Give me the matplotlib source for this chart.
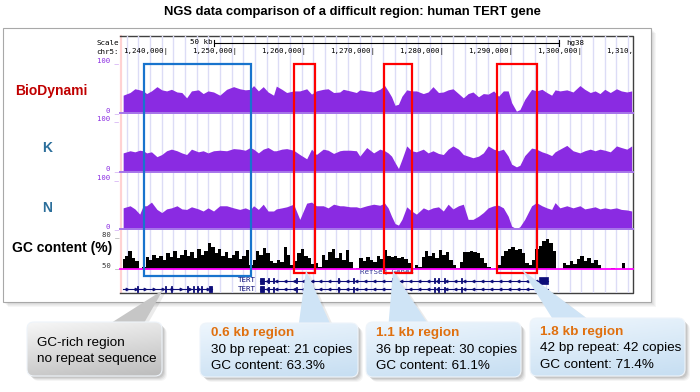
import matplotlib
matplotlib.use('Agg')
import matplotlib.pyplot as plt
import numpy as np
from matplotlib.colors import LinearSegmentedColormap
from matplotlib.patches import FancyBboxPatch, Polygon, Rectangle

# ---- values (positions in kb on chr5) ----
pos_kb = [1233.5, 1234.5, 1235.2, 1235.9, 1236.4, 1236.9, 1237.6, 1238.4, 1239.1, 1239.8,
          1240.5, 1241.3, 1242.0, 1242.7, 1243.4, 1244.4, 1245.1, 1245.8, 1246.6, 1247.5,
          1248.5, 1249.5, 1250.4, 1251.2, 1251.9, 1252.4, 1253.1, 1253.8, 1254.5, 1255.3,
          1255.7, 1256.5, 1257.2, 1258.2, 1259.1, 1260.1, 1260.8, 1261.5, 1262.5, 1263.2,
          1264.0, 1264.9, 1265.4, 1266.4, 1267.3, 1267.8, 1268.8, 1269.8, 1270.7, 1271.4,
          1271.9, 1272.4, 1272.9, 1273.4, 1273.9, 1274.6, 1275.3, 1276.0, 1277.0, 1277.7,
          1278.4, 1279.2, 1279.9, 1280.6, 1281.3, 1282.1, 1282.8, 1283.5, 1284.2, 1285.0,
          1285.7, 1286.4, 1287.2, 1287.9, 1288.6, 1289.3, 1289.8, 1290.5, 1291.0, 1291.7,
          1292.7, 1293.4, 1294.2, 1294.9, 1295.6, 1296.1, 1296.8, 1297.8, 1298.7, 1299.7,
          1300.4, 1301.2, 1301.9, 1302.6, 1303.3, 1304.1, 1305.0, 1305.7, 1306.5, 1307.2]

cov_biodynami = [34, 39, 46, 44, 42, 37, 42, 50, 44, 42, 45, 40, 39, 29, 42, 44, 37, 42, 40, 34,
                 45, 50, 46, 44, 45, 52, 42, 50, 40, 34, 51, 45, 39, 42, 42, 46, 36, 42, 45, 46,
                 39, 40, 45, 42, 39, 44, 42, 40, 45, 52, 42, 31, 15, 17, 32, 44, 42, 42, 37, 40,
                 50, 39, 40, 44, 46, 37, 29, 37, 40, 31, 37, 36, 42, 32, 42, 42, 20, 4, 7, 26,
                 45, 42, 45, 39, 34, 44, 42, 44, 40, 52, 45, 39, 42, 37, 45, 39, 46, 42, 40, 42]

cov_k = [35, 39, 37, 40, 39, 35, 37, 28, 32, 39, 42, 39, 35, 32, 42, 37, 39, 35, 39, 40,
         39, 43, 42, 40, 45, 42, 35, 42, 45, 39, 39, 42, 43, 40, 32, 24, 42, 32, 42, 40,
         34, 39, 40, 40, 39, 29, 45, 35, 42, 39, 35, 29, 17, 6, 23, 48, 39, 37, 42, 35,
         39, 34, 32, 42, 48, 42, 32, 29, 26, 29, 35, 48, 42, 39, 42, 29, 14, 9, 12, 30,
         44, 42, 37, 34, 30, 37, 42, 49, 39, 35, 39, 42, 39, 42, 40, 37, 48, 45, 42, 48]

cov_n = [41, 45, 39, 29, 45, 45, 52, 38, 32, 39, 41, 45, 39, 38, 43, 39, 35, 41, 35, 45,
         45, 41, 38, 41, 37, 45, 38, 48, 35, 35, 39, 41, 43, 48, 19, 50, 52, 45, 45, 41,
         48, 45, 45, 43, 43, 41, 45, 48, 46, 50, 41, 25, 11, 8, 19, 43, 35, 29, 41, 37,
         41, 43, 35, 48, 39, 45, 48, 19, 19, 25, 32, 41, 45, 46, 41, 25, 6, 1, 5, 19,
         45, 51, 45, 41, 38, 51, 41, 45, 41, 45, 39, 41, 43, 39, 41, 39, 41, 38, 37, 35]

gc_start_kb = 1233.5
gc_bin_kb = 0.5
gc_pct = [59, 62, 66, 60, 57, 50, 52, 61, 58, 63, 60, 62, 58, 64, 61, 66, 60, 63, 67, 62,
          65, 60, 68, 63, 66, 74, 70, 64, 68, 62, 65, 60, 63, 66, 59, 62, 67, 53, 58, 66,
          63, 69, 64, 57, 55, 58, 56, 70, 63, 53, 57, 64, 68, 62, 60, 54, 55, 52, 63, 58,
          65, 68, 60, 64, 58, 67, 56, 50, 51, 60, 57, 61, 58, 56, 62, 59, 67, 62, 61, 62,
          60, 61, 59, 55, 51, 53, 52, 61, 66, 62, 64, 60, 67, 63, 65, 58, 53, 51, 56, 65,
          65, 66, 65, 64, 60, 55, 52, 50, 51, 53, 62, 66, 68, 70, 67, 68, 64, 55, 53, 58,
          68, 71, 75, 77, 74, 66, 50, 50, 55, 53, 57, 54, 59, 62, 57, 60, 55, 58, 53, 50,
          50, 50, 51, 50, 50, 55, 50]

tick_kb = [1240, 1250, 1260, 1270, 1280, 1290, 1300, 1310]
scale_bar_kb = (1246.7, 50)
regions_kb = [(1236.5, 1252.0), (1258.26, 1261.3), (1271.3, 1275.36), (1287.68, 1293.48)]
region_colors = ['#1874cd', '#ff0000', '#ff0000', '#ff0000']

tert_span = (1253.3, 1295.1)
tert_exons = [(1253.3, 1253.9), (1254.45, 1254.6), (1255.2, 1255.35), (1258.6, 1258.75),
              (1264.6, 1264.75), (1266.8, 1266.95), (1272.4, 1272.55), (1278.6, 1278.75),
              (1279.1, 1279.25), (1280.0, 1280.15), (1282.5, 1282.65)]
tert_end_block = (1293.7, 1295.1)
left_gene_span = (1233.5, 1246.4)
left_gene_exons = [(1235.45, 1235.6), (1239.55, 1239.7), (1240.45, 1240.6), (1242.8, 1242.95),
                   (1243.6, 1243.75), (1244.15, 1244.3), (1244.85, 1245.0), (1246.0, 1246.4)]

title = 'NGS data comparison of a difficult region: human TERT gene'
track_names = ['BioDynami', 'K', 'N']
track_colors = ['#c00000', '#2c6f9b', '#2c6f9b']
gray_lines = ['GC-rich region', 'no repeat sequence']
callout_titles = ['0.6 kb region', '1.1 kb region', '1.8 kb region']
callout_lines = [['30 bp repeat: 21 copies', 'GC content: 63.3%'],
                 ['36 bp repeat: 30 copies', 'GC content: 61.1%'],
                 ['42 bp repeat: 42 copies', 'GC content: 71.4%']]

# ---- layout (pixels of the 700x392 picture) ----
W, H = 700, 392
X0, X1 = 120, 633
KB0 = 1240 - 48 / 6.9
KB1 = 1240 + (X1 - 168) / 6.9
mono = 'DejaVu Sans Mono'
sans = 'Liberation Sans'
purple = '#8a2be2'
navy = '#0c0c78'

fig = plt.figure(figsize=(7, 3.92), dpi=100)


def px_axes(x0, y0, x1, y1, z):
    ax = fig.add_axes([x0 / W, 1 - y1 / H, (x1 - x0) / W, (y1 - y0) / H], zorder=z)
    ax.patch.set_alpha(0)
    ax.axis('off')
    return ax


# background: frame, shadow, left labels
bg = px_axes(0, 0, W, H, 0)
for k in range(1, 6):
    bg.add_patch(Rectangle((3 + k, 28 + k), 648, 274, fc='k', ec='none', alpha=0.035))
bg.add_patch(Rectangle((3, 28), 648, 274, fc='white', ec='#a8a8a8', lw=0.8))
bg.plot([121, 121], [36, 293], color='#ffd2d2', lw=1.6)
bg.plot([X0, X1, X1, X0], [36, 36, 293, 293], color='#404040', lw=1.0)
bg.text(119, 42.5, 'Scale', ha='right', va='center', fontsize=5.4, family=mono)
bg.text(119, 51.5, 'chr5:', ha='right', va='center', fontsize=5.4, family=mono)

track_px = [(60, 113.3), (118, 171.7), (177, 229.3)]
label_y = [91, 148, 208]
for (top, bot), name, col, ly in zip(track_px, track_names, track_colors, label_y):
    bg.text(119, top + 0.5, '100 _', ha='right', va='center', fontsize=5.2, color=purple, family=mono)
    bg.text(119, bot - 3, '0 _', ha='right', va='center', fontsize=5.2, color=purple, family=mono)
    if name == 'BioDynami':
        bg.text(15, ly, name, ha='left', va='center', fontsize=10, fontweight='bold', color=col, family=sans)
    else:
        bg.text(47, ly, name, ha='center', va='center', fontsize=10, fontweight='bold', color=col, family=sans)
bg.text(119, 235, '80 _', ha='right', va='center', fontsize=5.2, color='#333333', family=mono)
bg.text(119, 265.5, '50 _', ha='right', va='center', fontsize=5.2, color='#333333', family=mono)
bg.text(12, 248, 'GC content (%)', ha='left', va='center', fontsize=10, fontweight='bold', family=sans)
bg.set_xlim(0, W)
bg.set_ylim(H, 0)

# browser guide lines, ruler and genes (x in kb, y in pixels)
gx = px_axes(X0, 36, X1, 293, 1)
for g in np.arange(1234.0, KB1, 1.69):
    gx.axvline(g, color='#dcdcf6', lw=1.0, zorder=0)
sb0, sblen = scale_bar_kb
gx.plot([sb0, sb0 + sblen], [42.5, 42.5], color='k', lw=0.8)
gx.plot([sb0, sb0], [40, 45.5], color='k', lw=0.8)
gx.plot([sb0 + sblen, sb0 + sblen], [40, 45.5], color='k', lw=0.8)
gx.text(sb0 - 0.3, 42.5, '50 kb', ha='right', va='center', fontsize=5.4, family=mono)
gx.text(sb0 + sblen + 1.0, 42.5, 'hg38', ha='left', va='center', fontsize=5.4, family=mono)
for t in tick_kb:
    gx.text(t, 51.5, f'{t * 1000:,}|', ha='right', va='center', fontsize=5.4, family=mono, clip_on=True)

tert_marks = np.arange(tert_span[0] + 1.0, tert_span[1] - 1.0, 1.3)
for row_y in (280.5, 289):
    gx.plot(tert_span, [row_y, row_y], color=navy, lw=0.8)
    gx.plot(tert_marks, [row_y] * len(tert_marks), ls='none', marker='<', ms=2.2, mew=0.5, color=navy)
    for a, b in tert_exons:
        h = 6 if b - a > 0.3 else 5
        gx.add_patch(Rectangle((a, row_y - h / 2), b - a, h, fc=navy, ec=navy, lw=0.6))
    gx.text(tert_span[0] - 0.6, row_y, 'TERT', ha='right', va='center', fontsize=5.4, color=navy, family=mono)
gx.add_patch(Rectangle((tert_end_block[0], 277), tert_end_block[1] - tert_end_block[0], 7, fc=navy, ec=navy, lw=0.5))
gx.plot(left_gene_span, [289, 289], color=navy, lw=0.8)
lg_marks = np.arange(left_gene_span[0] + 0.6, left_gene_span[1] - 0.6, 1.3)
gx.plot(lg_marks, [289] * len(lg_marks), ls='none', marker='>', ms=2.2, mew=0.5, color=navy)
for a, b in left_gene_exons:
    gx.add_patch(Rectangle((a, 286), b - a, 6, fc=navy, ec=navy, lw=0.6))
gx.text(1271.7, 272, 'RefSeq Genes', ha='center', va='center', fontsize=5.4, color='#3a3a9a', family=mono)
gx.set_xlim(KB0, KB1)
gx.set_ylim(293, 36)

# coverage tracks
for (top, bot), vals in zip(track_px, [cov_biodynami, cov_k, cov_n]):
    ax = px_axes(X0, top, X1, bot, 2)
    ax.fill_between(pos_kb, vals, 0, color=purple, lw=0)
    ax.axhline(0, color='#a777ea', lw=1.4, clip_on=False)
    ax.set_xlim(KB0, KB1)
    ax.set_ylim(0, 100)

# GC content track
gc_ax = px_axes(X0, 236, X1, 268.7, 2)
gc_pos = gc_start_kb + gc_bin_kb * np.arange(len(gc_pct))
gc_ax.fill_between(gc_pos, gc_pct, 50, step='mid', color='black', lw=0)
gc_ax.axhline(50, color='#ff00ff', lw=1.3, clip_on=False)
gc_ax.set_xlim(KB0, KB1)
gc_ax.set_ylim(50, 80)

# highlighted regions
bx = px_axes(X0, 36, X1, 293, 3)
for (a, b), col in zip(regions_kb, region_colors):
    y_bot = 275.5 if col != '#ff0000' else 273
    bx.add_patch(Rectangle((a, 64), b - a, y_bot - 64, fill=False, ec=col, lw=1.6))
bx.set_xlim(KB0, KB1)
bx.set_ylim(293, 36)

# callouts
cx = px_axes(0, 0, W, H, 4)
blue_cmap = LinearSegmentedColormap.from_list('b', ['#eef6fd', '#c6def2'])
gray_cmap = LinearSegmentedColormap.from_list('g', ['#f7f7f7', '#bcbcbc'])
g = np.linspace(0, 1, 64)
grad = g[:, None] * 0.75 + g[None, :] * 0.25


def callout(box, tip, base, cmap, wedge_col):
    x0, y0, x1, y1 = box
    wedge = [base[0], base[1], tip]
    for k, a in [(5, 0.04), (4, 0.05), (3, 0.07), (2, 0.08)]:
        cx.add_patch(FancyBboxPatch((x0 + k, y0 + k), x1 - x0, y1 - y0, zorder=1,
                                    boxstyle='round,pad=0,rounding_size=7', fc='k', ec='none', alpha=a))
    cx.add_patch(Polygon([(p[0] + 3, p[1] + 2) for p in wedge], closed=True, fc='k', ec='none',
                         alpha=0.08, zorder=1))
    cx.add_patch(Polygon(wedge, closed=True, fc=wedge_col, ec='none', zorder=2))
    patch = FancyBboxPatch((x0, y0), x1 - x0, y1 - y0, boxstyle='round,pad=0,rounding_size=7',
                           fc='none', ec='#eef4fa', lw=0.8, zorder=4)
    cx.add_patch(patch)
    im = cx.imshow(grad, cmap=cmap, extent=(x0, x1, y1, y0), aspect='auto',
                   interpolation='bilinear', zorder=3)
    im.set_clip_path(patch)


callout((27, 322, 162, 376), (163, 290), ((100, 330), (140, 330)), gray_cmap, '#c6c6c6')
for i, txt in enumerate(gray_lines):
    cx.text(37, 342.7 + 16.5 * i, txt, ha='left', va='center', fontsize=9.7, family=sans, zorder=5)

boxes = [(200, 323, 358, 377), (366, 322, 521, 377), (530, 318, 685, 376)]
tips = [(306, 270), (393, 271), (522, 270)]
bases = [((298, 330), (333, 330)), ((388, 330), (432, 330)), ((557, 326), (597, 326))]
text_x = [211, 376, 540]
text_y = [333.3, 333.3, 331.7]
for box, tip, base, tx, ty, ttl, lines in zip(boxes, tips, bases, text_x, text_y, callout_titles, callout_lines):
    callout(box, tip, base, blue_cmap, '#cfe4f6')
    cx.text(tx, ty, ttl, ha='left', va='center', fontsize=9.7, fontweight='bold', color='#e0700f',
            family=sans, zorder=5)
    for j, ln in enumerate(lines):
        cx.text(tx, ty + 16.5 * (j + 1), ln, ha='left', va='center', fontsize=9.7, family=sans, zorder=5)
cx.set_xlim(0, W)
cx.set_ylim(H, 0)

fig.text(352 / W, 1 - 12.5 / H, title, ha='center', va='center', fontsize=9.4,
         fontweight='bold', family=sans)

fig.savefig('out.png', dpi=100)
